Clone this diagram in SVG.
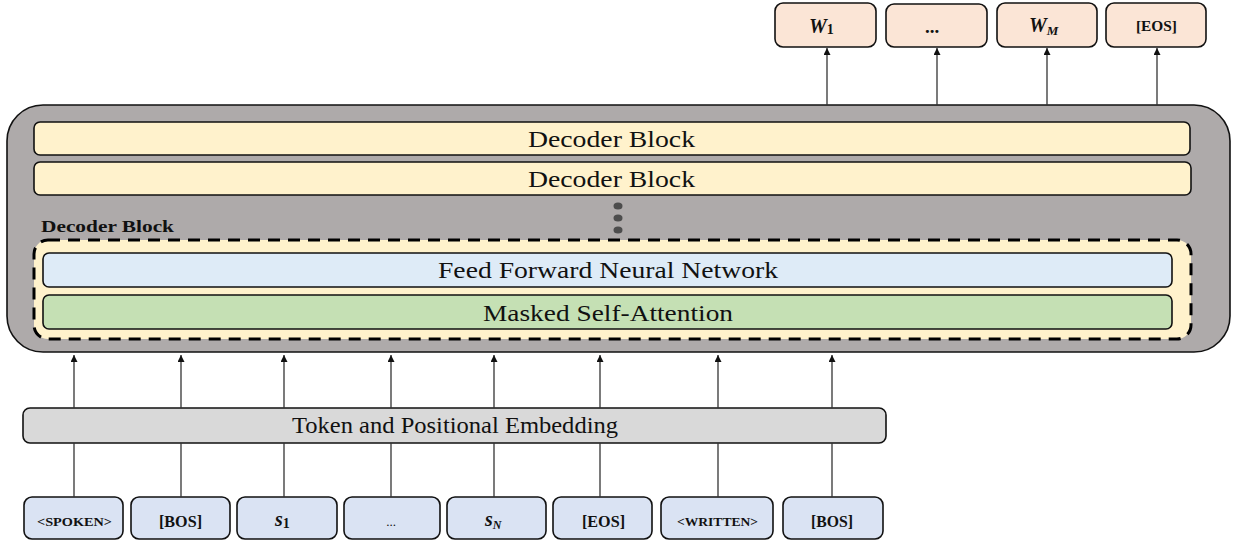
<svg xmlns="http://www.w3.org/2000/svg" width="1236" height="541" viewBox="0 0 1236 541">
<style>
.t{font-family:"Liberation Serif","Times New Roman",serif;fill:#111}
.big{font-size:23.5px}
.b{font-weight:bold}
.box{stroke:#111;stroke-width:1.6}
.out{fill:#FBE5D6}
.inp{fill:#DAE3F3}
.dec{fill:#FFF2CC}
.ln{stroke:#333;stroke-width:1.3;fill:none}
</style>
<defs>
<marker id="ah" viewBox="0 0 10 10" refX="10" refY="5" markerWidth="7" markerHeight="7" markerUnits="userSpaceOnUse" orient="auto">
<path d="M0,0 L10,5 L0,10 z" fill="#111"/>
</marker>
</defs>
<rect width="1236" height="541" fill="#fff"/>

<g id="outer">
<rect x="7" y="105" width="1223" height="247" rx="36" fill="#AEAAAA" stroke="#111" stroke-width="1.6"/>
</g>

<g id="decoder1">
<rect class="box dec" x="34" y="122" width="1156" height="33" rx="6"/>
<text class="t big" x="528" y="147" textLength="167" lengthAdjust="spacingAndGlyphs">Decoder Block</text>
</g>
<g id="decoder2">
<rect class="box dec" x="34" y="162" width="1157" height="33" rx="6"/>
<text class="t big" x="528" y="187" textLength="167" lengthAdjust="spacingAndGlyphs">Decoder Block</text>
</g>

<g id="dots" fill="#4d4d4d">
<ellipse cx="618" cy="206" rx="4.5" ry="3.6"/>
<ellipse cx="618" cy="218" rx="4.5" ry="3.6"/>
<ellipse cx="618" cy="230" rx="4.5" ry="3.6"/>
</g>

<g id="decoder-detail">
<text class="t b" x="41" y="232" font-size="17.5" textLength="133" lengthAdjust="spacingAndGlyphs">Decoder Block</text>
<rect x="34" y="240" width="1157" height="99" rx="14" fill="#FFF2CC" stroke="#000" stroke-width="3" stroke-dasharray="12,8"/>
</g>
<g id="ffnn">
<rect class="box" fill="#DEEBF7" x="43" y="253" width="1129" height="34" rx="6"/>
<text class="t big" x="438" y="278" textLength="340" lengthAdjust="spacingAndGlyphs">Feed Forward Neural Network</text>
</g>
<g id="msa">
<rect class="box" fill="#C5E0B4" x="43" y="295" width="1129" height="34" rx="6"/>
<text class="t big" x="483" y="321" textLength="250" lengthAdjust="spacingAndGlyphs">Masked Self-Attention</text>
</g>

<g id="embedding">
<rect class="box" fill="#D9D9D9" x="23" y="408" width="863" height="35" rx="7"/>
<text class="t big" x="292" y="433" textLength="326" lengthAdjust="spacingAndGlyphs">Token and Positional Embedding</text>
</g>

<g id="out-w1">
<rect class="box out" x="775" y="3" width="101" height="44" rx="8"/>
<text class="t b" x="809" y="33" font-size="20" font-style="italic">W<tspan font-size="14" font-style="normal" dy="1">1</tspan></text>
</g>
<g id="out-dots">
<rect class="box out" x="886" y="4" width="101" height="43" rx="8"/>
<text class="t b" x="932" y="33" font-size="19" text-anchor="middle">...</text>
</g>
<g id="out-wm">
<rect class="box out" x="997" y="3" width="100" height="44" rx="8"/>
<text class="t b" x="1029" y="32" font-size="20" font-style="italic">W<tspan font-size="13" dy="3">M</tspan></text>
</g>
<g id="out-eos">
<rect class="box out" x="1106" y="3" width="100" height="44" rx="8"/>
<text class="t b" x="1136" y="31" font-size="15" textLength="41" lengthAdjust="spacingAndGlyphs">[EOS]</text>
</g>

<g id="in-spoken">
<rect class="box inp" x="24" y="497" width="99" height="42" rx="8"/>
<text class="t b" x="37" y="526" font-size="12.5" textLength="75" lengthAdjust="spacingAndGlyphs">&lt;SPOKEN&gt;</text>
</g>
<g id="in-bos1">
<rect class="box inp" x="131" y="497" width="99" height="42" rx="8"/>
<text class="t b" x="159" y="527" font-size="17" textLength="43" lengthAdjust="spacingAndGlyphs">[BOS]</text>
</g>
<g id="in-s1">
<rect class="box inp" x="237" y="497" width="100" height="42" rx="8"/>
<text class="t b" x="275" y="526" font-size="20" font-style="italic">s<tspan font-size="14" font-style="normal" dy="2">1</tspan></text>
</g>
<g id="in-dots">
<rect class="box inp" x="344" y="497" width="96" height="42" rx="8"/>
<text class="t" x="391" y="526" font-size="13" text-anchor="middle">...</text>
</g>
<g id="in-sn">
<rect class="box inp" x="447" y="497" width="99" height="42" rx="8"/>
<text class="t b" x="485" y="526" font-size="20" font-style="italic">s<tspan font-size="12" dy="3">N</tspan></text>
</g>
<g id="in-eos">
<rect class="box inp" x="553" y="497" width="99" height="42" rx="8"/>
<text class="t b" x="582" y="527" font-size="17" textLength="43" lengthAdjust="spacingAndGlyphs">[EOS]</text>
</g>
<g id="in-written">
<rect class="box inp" x="661" y="497" width="112" height="42" rx="8"/>
<text class="t b" x="677" y="526" font-size="12.5" textLength="81" lengthAdjust="spacingAndGlyphs">&lt;WRITTEN&gt;</text>
</g>
<g id="in-bos2">
<rect class="box inp" x="783" y="497" width="100" height="42" rx="8"/>
<text class="t b" x="811" y="527" font-size="17" textLength="42" lengthAdjust="spacingAndGlyphs">[BOS]</text>
</g>

<g id="connectors">
<line class="ln" x1="827" y1="105" x2="827" y2="48" marker-end="url(#ah)"/>
<line class="ln" x1="937" y1="105" x2="937" y2="48" marker-end="url(#ah)"/>
<line class="ln" x1="1047" y1="105" x2="1047" y2="48" marker-end="url(#ah)"/>
<line class="ln" x1="1157" y1="105" x2="1157" y2="48" marker-end="url(#ah)"/>

<line class="ln" x1="74" y1="408" x2="74" y2="355" marker-end="url(#ah)"/>
<line class="ln" x1="181" y1="408" x2="181" y2="355" marker-end="url(#ah)"/>
<line class="ln" x1="284" y1="408" x2="284" y2="355" marker-end="url(#ah)"/>
<line class="ln" x1="391" y1="408" x2="391" y2="355" marker-end="url(#ah)"/>
<line class="ln" x1="494" y1="408" x2="494" y2="355" marker-end="url(#ah)"/>
<line class="ln" x1="600" y1="408" x2="600" y2="355" marker-end="url(#ah)"/>
<line class="ln" x1="718" y1="408" x2="718" y2="355" marker-end="url(#ah)"/>
<line class="ln" x1="832" y1="408" x2="832" y2="355" marker-end="url(#ah)"/>

<line class="ln" x1="74" y1="497" x2="74" y2="443"/>
<line class="ln" x1="181" y1="497" x2="181" y2="443"/>
<line class="ln" x1="284" y1="497" x2="284" y2="443"/>
<line class="ln" x1="391" y1="497" x2="391" y2="443"/>
<line class="ln" x1="494" y1="497" x2="494" y2="443"/>
<line class="ln" x1="600" y1="497" x2="600" y2="443"/>
<line class="ln" x1="718" y1="497" x2="718" y2="443"/>
<line class="ln" x1="832" y1="497" x2="832" y2="443"/>
</g>
</svg>
